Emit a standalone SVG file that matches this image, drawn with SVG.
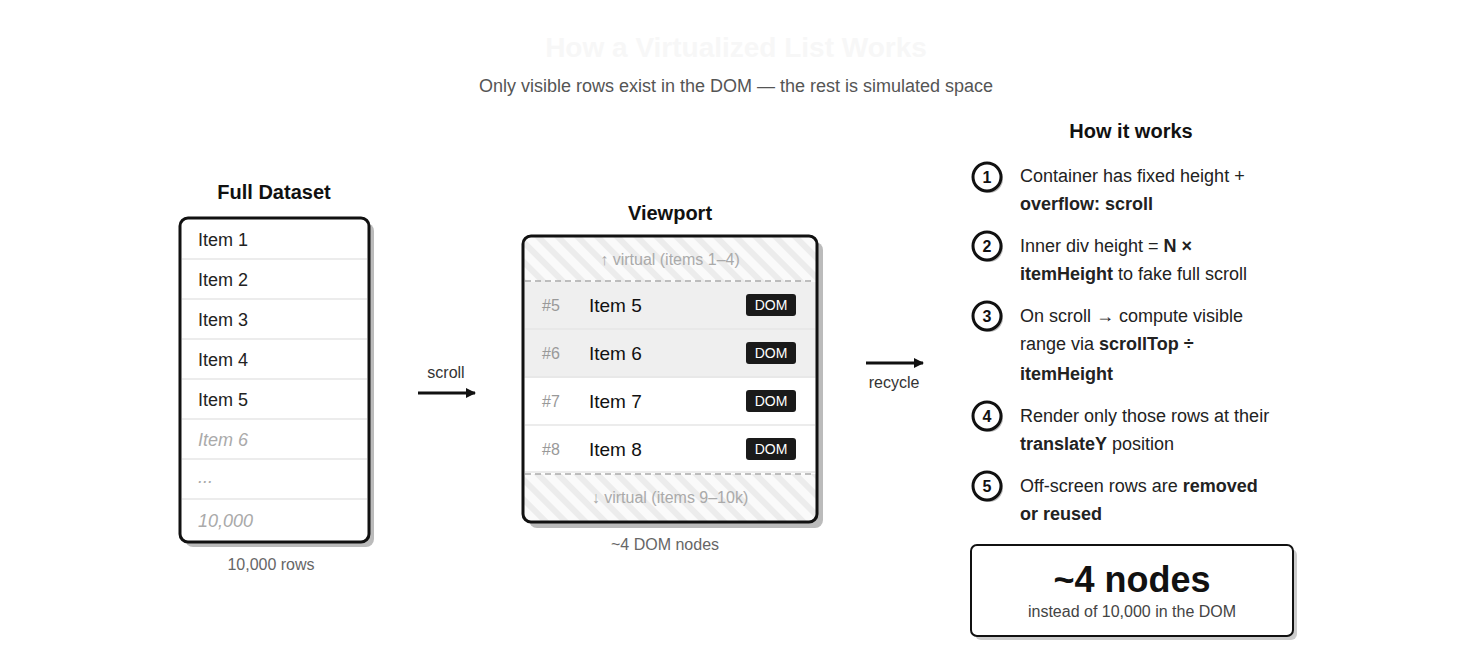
<svg xmlns="http://www.w3.org/2000/svg" width="1472" height="662" viewBox="0 0 1472 662">
<style>
text{font-family:"Liberation Sans",Arial,sans-serif}
.it{font-size:18px;fill:#222}
.gr{font-size:16px;fill:#666}
.h{font-size:20px;font-weight:bold;fill:#111}
.st{font-size:18px;fill:#222}
.b{font-weight:bold}
.sep{stroke:#e6e6e6;stroke-width:1.5}
.num{fill:#fff;stroke:#111;stroke-width:3}
.nt{font-size:16px;font-weight:bold;fill:#111;text-anchor:middle}
.dom{fill:#1a1a1a}
.dt{font-size:14px;fill:#fff;text-anchor:middle}
.idx{font-size:16px;fill:#999}
.vi{font-size:19px;fill:#111}
</style>
<defs>
<pattern id="hatch" width="14" height="14" patternUnits="userSpaceOnUse" patternTransform="rotate(-45)">
<rect width="14" height="14" fill="#fafafa"/>
<rect width="6" height="14" fill="#ececec"/>
</pattern>
<marker id="ah" markerWidth="10" markerHeight="10" refX="9" refY="5" orient="auto" markerUnits="userSpaceOnUse">
<path d="M0,0 L10,5 L0,10 z" fill="#111"/>
</marker>
<clipPath id="vpc"><rect x="524" y="237" width="292" height="284" rx="8"/></clipPath>
</defs>
<rect width="1472" height="662" fill="#fff"/>
<text x="736" y="57" font-size="28" font-weight="bold" fill="#f7f7f7" text-anchor="middle">How a Virtualized List Works</text>
<text x="736" y="92" font-size="18" fill="#555" text-anchor="middle">Only visible rows exist in the DOM — the rest is simulated space</text>

<g id="full-dataset">
<text x="274" y="199" class="h" text-anchor="middle">Full Dataset</text>
<rect x="185" y="223" width="189" height="324" rx="8" fill="#bbb"/>
<rect x="180" y="218" width="189" height="324" rx="8" fill="#fff" stroke="#111" stroke-width="3"/>
<g class="sep">
<line x1="182" y1="259" x2="367" y2="259"/><line x1="182" y1="299" x2="367" y2="299"/>
<line x1="182" y1="339" x2="367" y2="339"/><line x1="182" y1="379" x2="367" y2="379"/>
<line x1="182" y1="419" x2="367" y2="419"/><line x1="182" y1="459" x2="367" y2="459"/>
<line x1="182" y1="499" x2="367" y2="499"/></g>
<text x="198" y="246" class="it">Item 1</text>
<text x="198" y="286" class="it">Item 2</text>
<text x="198" y="326" class="it">Item 3</text>
<text x="198" y="366" class="it">Item 4</text>
<text x="198" y="406" class="it">Item 5</text>
<text x="198" y="446" class="it" fill="#aaa" style="fill:#aaa;font-style:italic">Item 6</text>
<text x="198" y="483" class="it" style="fill:#aaa;font-style:italic">...</text>
<text x="198" y="527" class="it" style="fill:#aaa;font-style:italic">10,000</text>
<text x="271" y="570" class="gr" text-anchor="middle">10,000 rows</text>
</g>

<g id="connectors">
<line x1="418" y1="393" x2="475" y2="393" stroke="#111" stroke-width="3" marker-end="url(#ah)"/>
<text x="446" y="378" font-size="16" fill="#333" text-anchor="middle">scroll</text>
<line x1="866" y1="363" x2="923" y2="363" stroke="#111" stroke-width="3" marker-end="url(#ah)"/>
<text x="894" y="388" font-size="16" fill="#333" text-anchor="middle">recycle</text>
</g>

<g id="viewport">
<text x="670" y="220" class="h" text-anchor="middle">Viewport</text>
<rect x="529" y="242" width="294" height="286" rx="8" fill="#bbb"/>
<rect x="523" y="236" width="294" height="286" rx="8" fill="#fff"/>
<g clip-path="url(#vpc)">
<rect x="523" y="236" width="294" height="46" fill="url(#hatch)"/>
<rect x="523" y="474" width="294" height="48" fill="url(#hatch)"/>
<rect x="523" y="282" width="294" height="96" fill="#efefef"/>
</g>
<line x1="525" y1="281" x2="815" y2="281" stroke="#aaa" stroke-width="1.5" stroke-dasharray="6,4"/>
<line x1="525" y1="474" x2="815" y2="474" stroke="#aaa" stroke-width="1.5" stroke-dasharray="6,4"/>
<g class="sep"><line x1="525" y1="329" x2="815" y2="329"/><line x1="525" y1="377" x2="815" y2="377"/><line x1="525" y1="425" x2="815" y2="425"/><line x1="525" y1="472" x2="815" y2="472"/></g>
<text x="670" y="265" font-size="16" fill="#aaa" text-anchor="middle">↑ virtual (items 1–4)</text>
<text x="670" y="503" font-size="16" fill="#aaa" text-anchor="middle">↓ virtual (items 9–10k)</text>
<text x="542" y="311" class="idx">#5</text><text x="589" y="312" class="vi">Item 5</text>
<rect x="746" y="294" width="50" height="22" rx="3" class="dom"/><text x="771" y="310" class="dt">DOM</text>
<text x="542" y="359" class="idx">#6</text><text x="589" y="360" class="vi">Item 6</text>
<rect x="746" y="342" width="50" height="22" rx="3" class="dom"/><text x="771" y="358" class="dt">DOM</text>
<text x="542" y="407" class="idx">#7</text><text x="589" y="408" class="vi">Item 7</text>
<rect x="746" y="390" width="50" height="22" rx="3" class="dom"/><text x="771" y="406" class="dt">DOM</text>
<text x="542" y="455" class="idx">#8</text><text x="589" y="456" class="vi">Item 8</text>
<rect x="746" y="438" width="50" height="22" rx="3" class="dom"/><text x="771" y="454" class="dt">DOM</text>
<rect x="523" y="236" width="294" height="286" rx="8" fill="none" stroke="#111" stroke-width="3"/>
<text x="665" y="550" class="gr" text-anchor="middle">~4 DOM nodes</text>
</g>

<g id="how-it-works">
<text x="1131" y="138" class="h" text-anchor="middle">How it works</text>
<g id="step1"><circle cx="989" cy="179" r="14" fill="#bbb"/><circle cx="987" cy="177" r="14" class="num"/><text x="987" y="183" class="nt">1</text>
<text x="1020" y="182" class="st">Container has fixed height +</text><text x="1020" y="210" class="st b">overflow: scroll</text></g>
<g id="step2"><circle cx="989" cy="248" r="14" fill="#bbb"/><circle cx="987" cy="246" r="14" class="num"/><text x="987" y="252" class="nt">2</text>
<text x="1020" y="252" class="st">Inner div height = <tspan class="b">N ×</tspan></text><text x="1020" y="280" class="st"><tspan class="b">itemHeight</tspan> to fake full scroll</text></g>
<g id="step3"><circle cx="989" cy="318" r="14" fill="#bbb"/><circle cx="987" cy="316" r="14" class="num"/><text x="987" y="322" class="nt">3</text>
<text x="1020" y="322" class="st">On scroll → compute visible</text><text x="1020" y="350" class="st">range via <tspan class="b">scrollTop ÷</tspan></text><text x="1020" y="380" class="st b">itemHeight</text></g>
<g id="step4"><circle cx="989" cy="418" r="14" fill="#bbb"/><circle cx="987" cy="416" r="14" class="num"/><text x="987" y="422" class="nt">4</text>
<text x="1020" y="422" class="st">Render only those rows at their</text><text x="1020" y="450" class="st"><tspan class="b">translateY</tspan> position</text></g>
<g id="step5"><circle cx="989" cy="488" r="14" fill="#bbb"/><circle cx="987" cy="486" r="14" class="num"/><text x="987" y="492" class="nt">5</text>
<text x="1020" y="492" class="st">Off-screen rows are <tspan class="b">removed</tspan></text><text x="1020" y="520" class="st b">or reused</text></g>
</g>

<g id="summary">
<rect x="975" y="549" width="322" height="91" rx="6" fill="#ccc"/>
<rect x="971" y="545" width="322" height="91" rx="6" fill="#fff" stroke="#111" stroke-width="2"/>
<text x="1132" y="592" font-size="36" font-weight="bold" fill="#111" text-anchor="middle">~4 nodes</text>
<text x="1132" y="617" font-size="16" fill="#444" text-anchor="middle">instead of 10,000 in the DOM</text>
</g>
</svg>
